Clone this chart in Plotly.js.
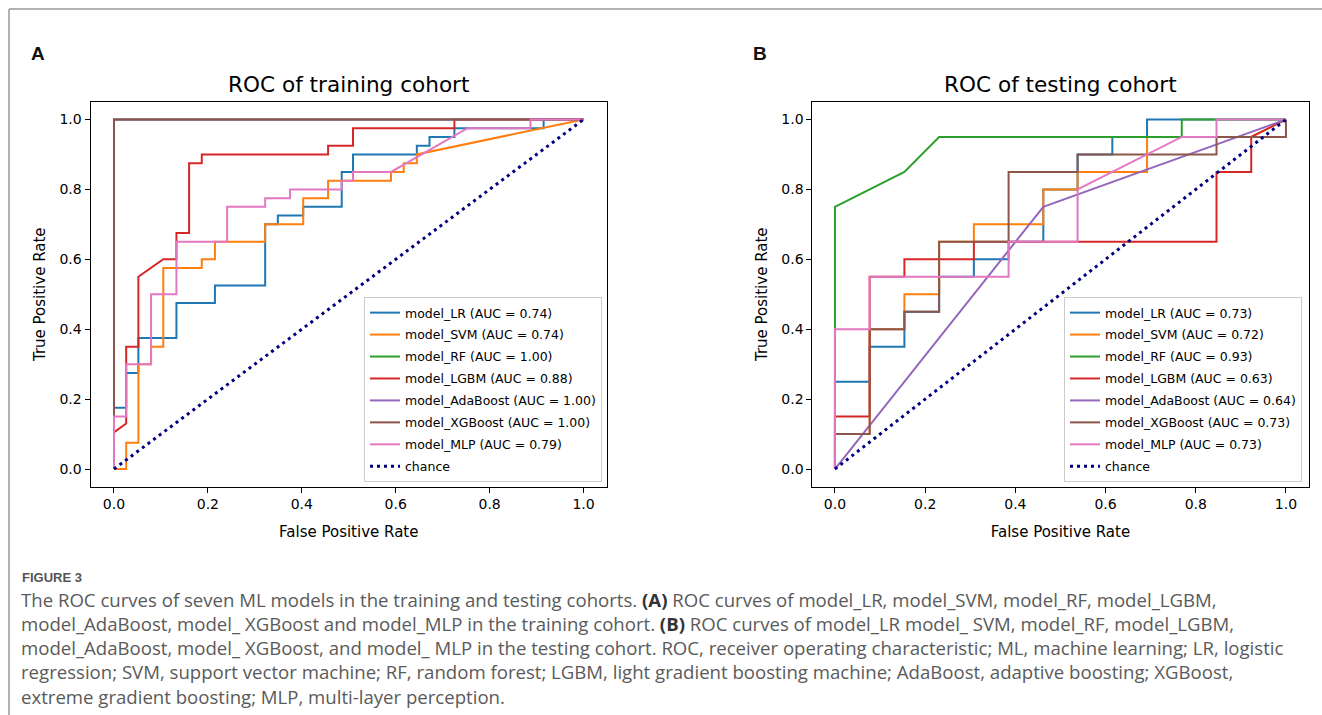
<!DOCTYPE html>
<html>
<head>
<meta charset="utf-8">
<script src="https://cdn.plot.ly/plotly-3.0.1.min.js"></script>
<style>html,body{margin:0;padding:0;background:#fff;}#chart{width:1322px;height:715px;}</style>
</head>
<body>
<div id="chart"></div>
<script>
// ---------- data ----------
const modelNames = ['model_LR', 'model_SVM', 'model_RF', 'model_LGBM', 'model_AdaBoost', 'model_XGBoost', 'model_MLP'];
const modelColors = ['#1f77b4', '#ff7f0e', '#2ca02c', '#d62728', '#9467bd', '#8c564b', '#e377c2'];
const aucTrain = ['0.74', '0.74', '1.00', '0.88', '1.00', '1.00', '0.79'];
const aucTest = ['0.73', '0.72', '0.93', '0.63', '0.64', '0.73', '0.73'];
const chanceX = [0, 1];
const chanceY = [0, 1];
const tickVals = [0, 0.2, 0.4, 0.6, 0.8, 1.0];
const tickText = ['0.0', '0.2', '0.4', '0.6', '0.8', '1.0'];

// training cohort
const trainLR_fpr = [0, 0, 0.026, 0.026, 0.052, 0.052, 0.133, 0.133, 0.215, 0.215, 0.322, 0.322, 0.349, 0.349, 0.403, 0.403, 0.485, 0.485, 0.509, 0.509, 0.645, 0.645, 0.672, 0.672, 0.725, 0.725, 0.915, 0.915, 1];
const trainLR_tpr = [0, 0.175, 0.175, 0.275, 0.275, 0.375, 0.375, 0.475, 0.475, 0.525, 0.525, 0.7, 0.7, 0.725, 0.725, 0.75, 0.75, 0.85, 0.85, 0.9, 0.9, 0.925, 0.925, 0.95, 0.95, 0.975, 0.975, 1.0, 1.0];
const trainSVM_fpr = [0, 0.026, 0.026, 0.052, 0.052, 0.079, 0.079, 0.105, 0.105, 0.187, 0.187, 0.215, 0.215, 0.322, 0.322, 0.403, 0.403, 0.456, 0.456, 0.59, 0.59, 0.617, 0.617, 0.645, 0.645, 1];
const trainSVM_tpr = [0, 0, 0.075, 0.075, 0.3, 0.3, 0.35, 0.35, 0.575, 0.575, 0.6, 0.6, 0.65, 0.65, 0.7, 0.7, 0.775, 0.775, 0.825, 0.825, 0.85, 0.85, 0.875, 0.875, 0.9, 1.0];
const trainRF_fpr = [0, 0, 1];
const trainRF_tpr = [0, 1, 1];
const trainLGBM_fpr = [0, 0, 0.026, 0.026, 0.052, 0.052, 0.105, 0.133, 0.133, 0.16, 0.16, 0.187, 0.187, 0.456, 0.456, 0.509, 0.509, 0.725, 0.725, 1];
const trainLGBM_tpr = [0, 0.105, 0.13, 0.35, 0.35, 0.55, 0.6, 0.6, 0.675, 0.675, 0.875, 0.875, 0.9, 0.9, 0.925, 0.925, 0.975, 0.975, 1.0, 1.0];
const trainAda_fpr = [0, 0, 1];
const trainAda_tpr = [0, 1, 1];
const trainXGB_fpr = [0, 0, 1];
const trainXGB_tpr = [0, 1, 1];
const trainMLP_fpr = [0, 0, 0.026, 0.026, 0.079, 0.079, 0.133, 0.133, 0.241, 0.241, 0.322, 0.322, 0.375, 0.375, 0.485, 0.485, 0.509, 0.509, 0.59, 0.753, 0.887, 0.887, 1];
const trainMLP_tpr = [0, 0.15, 0.15, 0.3, 0.3, 0.5, 0.5, 0.65, 0.65, 0.75, 0.75, 0.775, 0.775, 0.8, 0.8, 0.825, 0.825, 0.85, 0.85, 0.975, 0.975, 1.0, 1.0];

// testing cohort
const testLR_fpr = [0, 0, 0.077, 0.077, 0.154, 0.154, 0.231, 0.231, 0.308, 0.308, 0.385, 0.385, 0.462, 0.462, 0.538, 0.538, 0.615, 0.615, 0.692, 0.692, 1];
const testLR_tpr = [0, 0.25, 0.25, 0.35, 0.35, 0.45, 0.45, 0.55, 0.55, 0.6, 0.6, 0.65, 0.65, 0.8, 0.8, 0.9, 0.9, 0.95, 0.95, 1.0, 1.0];
const testSVM_fpr = [0, 0, 0.077, 0.077, 0.154, 0.154, 0.231, 0.231, 0.308, 0.308, 0.462, 0.462, 0.538, 0.538, 0.692, 0.692, 0.923, 1];
const testSVM_tpr = [0, 0.1, 0.1, 0.4, 0.4, 0.5, 0.5, 0.65, 0.65, 0.7, 0.7, 0.8, 0.8, 0.85, 0.85, 0.95, 0.95, 1.0];
const testRF_fpr = [0, 0, 0.077, 0.154, 0.231, 0.769, 0.769, 1];
const testRF_tpr = [0, 0.75, 0.8, 0.85, 0.95, 0.95, 1.0, 1.0];
const testLGBM_fpr = [0, 0, 0.077, 0.077, 0.154, 0.154, 0.308, 0.308, 0.846, 0.846, 0.923, 0.923, 1];
const testLGBM_tpr = [0, 0.15, 0.15, 0.55, 0.55, 0.6, 0.6, 0.65, 0.65, 0.85, 0.85, 0.95, 1.0];
const testAda_fpr = [0, 0.462, 1];
const testAda_tpr = [0, 0.75, 1.0];
const testXGB_fpr = [0, 0, 0.077, 0.077, 0.154, 0.154, 0.231, 0.231, 0.385, 0.385, 0.538, 0.538, 0.846, 0.846, 1, 1];
const testXGB_tpr = [0, 0.1, 0.1, 0.4, 0.4, 0.45, 0.45, 0.65, 0.65, 0.85, 0.85, 0.9, 0.9, 0.95, 0.95, 1.0];
const testMLP_fpr = [0, 0, 0.077, 0.077, 0.385, 0.385, 0.538, 0.538, 0.769, 0.846, 0.846, 1];
const testMLP_tpr = [0, 0.4, 0.4, 0.55, 0.55, 0.65, 0.65, 0.8, 0.95, 0.95, 1.0, 1.0];

const trainCurves = [[trainLR_fpr, trainLR_tpr], [trainSVM_fpr, trainSVM_tpr], [trainRF_fpr, trainRF_tpr], [trainLGBM_fpr, trainLGBM_tpr], [trainAda_fpr, trainAda_tpr], [trainXGB_fpr, trainXGB_tpr], [trainMLP_fpr, trainMLP_tpr]];
const testCurves = [[testLR_fpr, testLR_tpr], [testSVM_fpr, testSVM_tpr], [testRF_fpr, testRF_tpr], [testLGBM_fpr, testLGBM_tpr], [testAda_fpr, testAda_tpr], [testXGB_fpr, testXGB_tpr], [testMLP_fpr, testMLP_tpr]];

const panelTitles = ['ROC of training cohort', 'ROC of testing cohort'];
const panelLetters = ['A', 'B'];
const captionLines = [
  'The ROC curves of seven ML models in the training and testing cohorts. <b><span style="color:#333">(A)</span></b> ROC curves of model_LR, model_SVM, model_RF, model_LGBM,',
  'model_AdaBoost, model_ XGBoost and model_MLP in the training cohort. <b><span style="color:#333">(B)</span></b> ROC curves of model_LR model_ SVM, model_RF, model_LGBM,',
  'model_AdaBoost, model_ XGBoost, and model_ MLP in the testing cohort. ROC, receiver operating characteristic; ML, machine learning; LR, logistic',
  'regression; SVM, support vector machine; RF, random forest; LGBM, light gradient boosting machine; AdaBoost, adaptive boosting; XGBoost,',
  'extreme gradient boosting; MLP, multi-layer perception.'
];

// ---------- layout helpers (pixel -> paper) ----------
const W = 1322, H = 715;
const px = v => v / W;
const py = v => 1 - v / H;
const FONT = 'DejaVu Sans, sans-serif';

const traces = [];
function addPanel(curves, aucs, xa, ya, legendId, pfx) {
  curves.forEach((c, i) => {
    traces.push({
      x: c[0], y: c[1], type: 'scatter', mode: 'lines',
      name: modelNames[i] + ' (AUC = ' + aucs[i] + ')',
      line: {color: modelColors[i], width: 2},
      xaxis: xa, yaxis: ya, legend: legendId, legendgroup: pfx + i
    });
  });
  traces.push({
    x: chanceX, y: chanceY, type: 'scatter', mode: 'lines', name: 'chance',
    line: {color: '#000080', width: 3, dash: '3px,4px'},
    xaxis: xa, yaxis: ya, legend: legendId, legendgroup: pfx + 'c'
  });
}
addPanel(trainCurves, aucTrain, 'x', 'y', 'legend', 'tr');
addPanel(testCurves, aucTest, 'x2', 'y2', 'legend2', 'te');

function axis(domain, anchor, title, standoff) {
  return {
    domain: domain, anchor: anchor, range: [-0.05, 1.05],
    tickvals: tickVals, ticktext: tickText,
    ticks: 'outside', ticklen: 5, tickwidth: 1, tickcolor: '#000',
    showline: true, linecolor: '#000', linewidth: 1, mirror: true,
    showgrid: false, zeroline: false, automargin: false, fixedrange: true,
    tickfont: {family: FONT, size: 14, color: '#000'},
    title: {text: title, font: {family: FONT, size: 15, color: '#000'}, standoff: standoff}
  };
}
const yDom = [py(486.5), py(102)];

const legendCommon = {
  font: {family: FONT, size: 12.5, color: '#000'},
  bgcolor: 'rgba(255,255,255,0.9)', bordercolor: '#cccccc', borderwidth: 1,
  itemwidth: 30, xanchor: 'right', yanchor: 'bottom', tracegroupgap: 2.7
};

const annotations = [];
[[348.75, panelTitles[0]], [1060.5, panelTitles[1]]].forEach(a => {
  annotations.push({xref: 'paper', yref: 'paper', x: px(a[0]), y: py(84), xanchor: 'center', yanchor: 'middle',
    text: a[1], showarrow: false, font: {family: FONT, size: 21.6, color: '#000'}});
});
[[38, panelLetters[0]], [760, panelLetters[1]]].forEach(a => {
  annotations.push({xref: 'paper', yref: 'paper', x: px(a[0]), y: py(53), xanchor: 'center', yanchor: 'middle',
    text: '<b>' + a[1] + '</b>', showarrow: false, font: {family: 'Liberation Sans, Arial, sans-serif', size: 19, color: '#111'}});
});
annotations.push({xref: 'paper', yref: 'paper', x: px(20), y: py(577), xanchor: 'left', yanchor: 'middle',
  text: '<b>FIGURE 3</b>', showarrow: false, font: {family: 'Liberation Sans Narrow, Liberation Sans, sans-serif', size: 13, color: '#555'}});
captionLines.forEach((t, i) => {
  annotations.push({xref: 'paper', yref: 'paper', x: px(19), y: py(599 + i * 24.3), xanchor: 'left', yanchor: 'middle', align: 'left',
    text: t, showarrow: false, font: {family: 'Open Sans, sans-serif', size: 18.6, color: '#5a5a5a'}});
});

const layout = {
  width: W, height: H,
  margin: {l: 0, r: 0, t: 0, b: 0},
  paper_bgcolor: '#fff', plot_bgcolor: '#fff',
  showlegend: true,
  xaxis: axis([px(90.5), px(607)], 'y', 'False Positive Rate', 15),
  yaxis: axis(yDom, 'x', 'True Positive Rate', 10),
  xaxis2: axis([px(812.4), px(1308.5)], 'y2', 'False Positive Rate', 15),
  yaxis2: axis(yDom, 'x2', 'True Positive Rate', 10),
  legend: Object.assign({x: px(602), y: py(482)}, legendCommon),
  legend2: Object.assign({x: px(1302), y: py(482)}, legendCommon),
  annotations: annotations,
  shapes: [
    {type: 'line', xref: 'paper', yref: 'paper', x0: px(9), y0: py(9), x1: px(1322), y1: py(9), line: {color: '#9a9a9a', width: 1.5}},
    {type: 'line', xref: 'paper', yref: 'paper', x0: px(9), y0: py(9), x1: px(9), y1: py(715), line: {color: '#9a9a9a', width: 1.5}}
  ]
};

Plotly.newPlot('chart', traces, layout, {staticPlot: true, displayModeBar: false});
</script>
</body>
</html>
